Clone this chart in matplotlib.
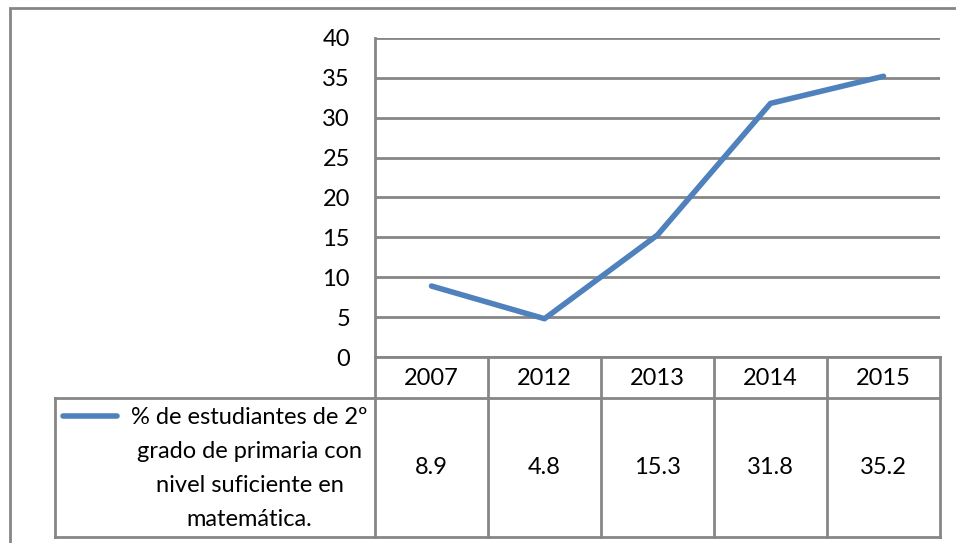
import numpy as np
from matplotlib import pyplot as plt
from matplotlib.lines import Line2D
from matplotlib.patches import Rectangle

plt.rcParams['font.family'] = ['Lato', 'DejaVu Sans']

# data
years = ['2007', '2012', '2013', '2014', '2015']
valores = [8.9, 4.8, 15.3, 31.8, 35.2]
etiquetas = ['8.9', '4.8', '15.3', '31.8', '35.2']
serie = '% de estudiantes de 2º\ngrado de primaria con\nnivel suficiente en\nmatemática.'
yticks = [0, 5, 10, 15, 20, 25, 30, 35, 40]

W, H = 956, 543
gris = '#868686'
azul = '#4F81BD'
fs = 17

fig = plt.figure(figsize=(W / 100, H / 100), dpi=100)

# marco exterior del grafico
fig.add_artist(Rectangle((10 / W, -0.02), 1.0, 1 - 8 / H + 0.02, transform=fig.transFigure,
                         fill=False, edgecolor=gris, linewidth=2))

# area del grafico
px_l, px_r, px_t, px_b = 375, 940, 38, 357
ax = fig.add_axes([px_l / W, 1 - px_b / H, (px_r - px_l) / W, (px_b - px_t) / H])
x = np.arange(len(years))
ax.plot(x, valores, color=azul, linewidth=4, solid_capstyle='round')
ax.set_xlim(-0.5, len(years) - 0.5)
ax.set_ylim(0, 40)
ax.set_yticks(yticks)
ax.set_yticklabels([str(t) for t in yticks], fontsize=fs)
ax.set_xticks([])
ax.tick_params(axis='y', length=0, pad=18)
ax.grid(axis='y', color=gris, linewidth=2)
ax.set_axisbelow(True)
for s in ['top', 'right', 'bottom']:
    ax.spines[s].set_visible(False)
ax.spines['left'].set_color(gris)
ax.spines['left'].set_linewidth(2)

# tabla de datos
col_w = (px_r - px_l) / len(years)
t_l, t_t, t_b = 55, 357, 537
leg_w = (px_l - t_l) / col_w
tx = fig.add_axes([t_l / W, 1 - t_b / H, (px_r - t_l) / W, (t_b - t_t) / H])
tx.set_xlim(-0.5 - leg_w, len(years) - 0.5)
tx.set_ylim(t_b - t_t, 0)
tx.axis('off')
hdr = 41
alto = t_b - t_t
kw = dict(color=gris, linewidth=2, clip_on=False)
# lineas horizontales
tx.plot([-0.5 - leg_w, len(years) - 0.5], [hdr, hdr], **kw)
tx.plot([-0.5 - leg_w, len(years) - 0.5], [alto, alto], **kw)
tx.plot([-0.5, len(years) - 0.5], [0, 0], **kw)
# lineas verticales
for i in range(len(years) + 1):
    tx.plot([i - 0.5, i - 0.5], [0, alto], **kw)
tx.plot([-0.5 - leg_w, -0.5 - leg_w], [hdr, alto], **kw)

for i, yr in enumerate(years):
    tx.text(i, hdr / 2 + 1, yr, ha='center', va='center', fontsize=fs)
    tx.text(i, (hdr + alto) / 2, etiquetas[i], ha='center', va='center', fontsize=fs)

# leyenda dentro de la tabla
tx.text(-0.5 - 7 / col_w, (hdr + alto) / 2 + 1, serie, ha='right', va='center',
        fontsize=fs, multialignment='center', linespacing=1.75)
tx.add_line(Line2D([-0.5 - leg_w + 8 / col_w, -0.5 - leg_w + 62 / col_w], [hdr + 18, hdr + 18],
                   color=azul, linewidth=4, solid_capstyle='round'))

plt.savefig('out.png', dpi=100)
